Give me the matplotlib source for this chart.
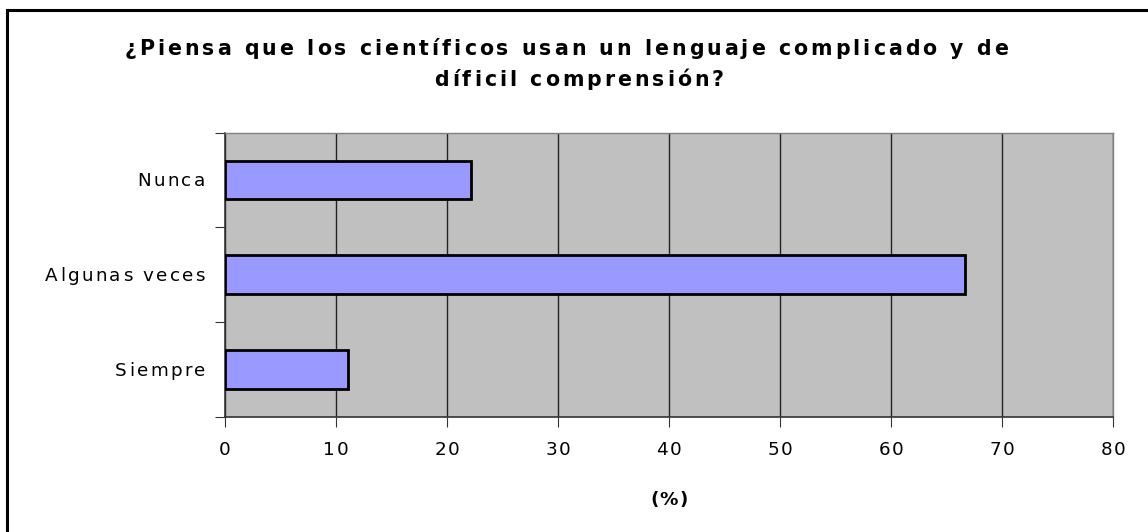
import numpy as np
import matplotlib.pyplot as plt
from matplotlib.lines import Line2D
from matplotlib.font_manager import FontProperties

plt.rcParams['font.family'] = ['DejaVu Sans']

categorias = ["Siempre", "Algunas veces", "Nunca"]
porcentaje = [11.1, 66.7, 22.2]
xticks = [0, 10, 20, 30, 40, 50, 60, 70, 80]
titulo = ["¿Piensa que los científicos usan un lenguaje complicado y de",
          "díficil comprensión?"]

W, H = 1148, 532
fig = plt.figure(figsize=(W / 100, H / 100), dpi=100)
ax = fig.add_axes([0.196, 0.2167, 0.7735, 0.534])
renderer = fig.canvas.get_renderer()


def tracked_text(s, x, y, size, track, weight='normal', ha='left'):
    # letter-spaced text, x/y in pixels from bottom-left, y is the baseline
    prop = FontProperties(family='DejaVu Sans', size=size, weight=weight)
    w = lambda t: renderer.get_text_width_height_descent(t, prop, ismath=False)[0]
    bar = w('|')
    adv = [w(s[:i] + '|') - bar for i in range(len(s))]
    total = w(s) + track * (len(s) - 1)
    if ha == 'center':
        x0 = x - total / 2
    elif ha == 'right':
        x0 = x - total
    else:
        x0 = x
    for i, ch in enumerate(s):
        if ch == ' ':
            continue
        fig.text((x0 + adv[i] + i * track) / W, y / H, ch, fontproperties=prop,
                 ha='left', va='baseline')


ypos = np.arange(len(categorias))
ax.barh(ypos, porcentaje, height=0.41, color='#9999FF', edgecolor='black', linewidth=2, zorder=3)

ax.set_facecolor('#C0C0C0')
ax.set_xlim(0, 80)
ax.set_ylim(-0.5, len(categorias) - 0.5)
ax.set_xticks(xticks)
ax.set_xticklabels([])
ax.xaxis.grid(True, color='#222222', linewidth=1, zorder=1)
ax.set_axisbelow(True)

# tick marks between categories, labels drawn separately
ax.set_yticks(np.arange(-0.5, len(categorias)))
ax.set_yticklabels([])
ax.tick_params(axis='y', length=7, color='#333333', direction='out')
ax.tick_params(axis='x', length=7, color='#333333')

for s in ['left', 'bottom']:
    ax.spines[s].set_color('#333333')
    ax.spines[s].set_linewidth(1.2)
for s in ['top', 'right']:
    ax.spines[s].set_color('#808080')
    ax.spines[s].set_linewidth(1)

# axis labels
for y, lab in zip(ypos, categorias):
    px, py = ax.transData.transform((0, y))
    tracked_text(lab, px - 20, py - 6.5, 13.2, 2.3, ha='right')

for v in xticks:
    px, py = ax.transData.transform((v, -0.5))
    tracked_text(str(v), px, py - 38, 13.2, 2.0, ha='center')

bx0, _ = ax.transData.transform((0, -0.5))
bx1, _ = ax.transData.transform((80, -0.5))
tracked_text("(%)", (bx0 + bx1) / 2, 27, 13.2, 1.0, weight='bold', ha='center')

tracked_text(titulo[0], 566, 477, 14.8, 3.0, weight='bold', ha='center')
tracked_text(titulo[1], 579, 446, 14.8, 3.0, weight='bold', ha='center')

# chart frame (left and top edges)
fig.add_artist(Line2D([0.0061, 0.0061], [0, 0.981], transform=fig.transFigure, color='black', linewidth=2.2))
fig.add_artist(Line2D([0.0061, 1], [0.981, 0.981], transform=fig.transFigure, color='black', linewidth=2.2))

fig.savefig("out.png", dpi=100)
